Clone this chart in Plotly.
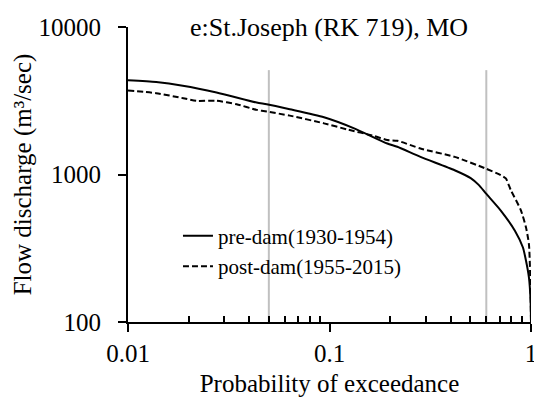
import plotly.graph_objects as go

# Probability of exceedance / flow discharge (m3/s)
pre_x = [0.01, 0.0138, 0.0187, 0.0275, 0.0435, 0.0488, 0.0635, 0.0939, 0.1325, 0.1936,
         0.217, 0.2827, 0.4178, 0.502, 0.55, 0.597, 0.708, 0.832, 0.912, 0.944, 0.977, 0.995, 1.0]
pre_y = [4350, 4233, 4000, 3600, 3076, 2995, 2769, 2442, 2054, 1622,
         1541, 1317, 1069, 945, 850, 745, 570, 416, 320, 261, 200, 140, 100]

post_x = [0.01, 0.0138, 0.0188, 0.0218, 0.0275, 0.0346, 0.0435, 0.0488, 0.0635, 0.0939,
          0.1223, 0.1667, 0.1936, 0.217, 0.2827, 0.4178, 0.597, 0.708, 0.75, 0.794,
          0.89, 0.944, 0.977, 0.995, 1.0]
post_y = [3715, 3560, 3290, 3160, 3160, 2995, 2743, 2671, 2507, 2222,
          2022, 1823, 1712, 1693, 1500, 1317, 1096, 990, 940, 784,
          574, 439, 335, 160, 100]

ref_x = [0.05, 0.6]          # reference vertical lines
ref_y = [100, 5100]

x_ticks = [0.01, 0.1, 1]
x_tick_text = ["0.01", "0.1", "1"]
x_minor = [0.02, 0.03, 0.04, 0.05, 0.06, 0.07, 0.08, 0.09,
           0.2, 0.3, 0.4, 0.5, 0.6, 0.7, 0.8, 0.9]
y_ticks = [100, 1000, 10000]
y_tick_text = ["100", "1000", "10000"]

FONT = "Liberation Serif"

fig = go.Figure()
for rx in ref_x:
    fig.add_trace(go.Scatter(x=[rx, rx], y=ref_y, mode="lines",
                             line=dict(color="#c0c0c0", width=2),
                             showlegend=False, hoverinfo="skip"))

fig.add_trace(go.Scatter(x=pre_x, y=pre_y, mode="lines", name="pre-dam(1930-1954)",
                         line=dict(color="black", width=2, shape="spline", smoothing=0.6)))
fig.add_trace(go.Scatter(x=post_x, y=post_y, mode="lines", name="post-dam(1955-2015)",
                         line=dict(color="black", width=2, dash="6px,3px",
                                   shape="spline", smoothing=0.6)))

fig.update_layout(
    width=542, height=400,
    margin=dict(l=120, r=19, t=19, b=86),
    paper_bgcolor="white", plot_bgcolor="white",
    font=dict(family=FONT, size=25, color="black"),
    showlegend=True,
    legend=dict(x=0.124, y=0.24, xanchor="left", yanchor="middle",
                bgcolor="rgba(0,0,0,0)", font=dict(size=21, family=FONT, color="black"),
                itemwidth=30),
    annotations=[dict(text="e:St.Joseph (RK 719), MO", xref="paper", yref="paper",
                      x=0.498, y=1.0, xanchor="center", yanchor="middle",
                      showarrow=False, font=dict(size=26, family=FONT, color="black"))],
)

fig.update_xaxes(type="log", range=[-2, 0], showgrid=False, zeroline=False, automargin=False,
                 showline=True, linecolor="black", linewidth=2,
                 ticks="outside", ticklen=8, tickwidth=2, tickcolor="black",
                 tickvals=x_ticks, ticktext=x_tick_text,
                 tickfont=dict(family=FONT, size=25, color="black"),
                 minor=dict(tickvals=x_minor, ticks="inside", ticklen=6,
                            tickwidth=1.5, tickcolor="black", showgrid=False),
                 title=dict(text="Probability of exceedance",
                            font=dict(family=FONT, size=25, color="black"), standoff=8))
fig.update_yaxes(type="log", range=[2, 4], showgrid=False, zeroline=False, automargin=False,
                 showline=True, linecolor="black", linewidth=2,
                 ticks="outside", ticklen=8, tickwidth=2, tickcolor="black",
                 tickvals=y_ticks, ticktext=y_tick_text, ticklabelstandoff=12,
                 tickfont=dict(family=FONT, size=25, color="black"),
                 title=dict(text="Flow discharge (m³/sec)",
                            font=dict(family=FONT, size=25, color="black"), standoff=0))

fig.write_html("out.html")
